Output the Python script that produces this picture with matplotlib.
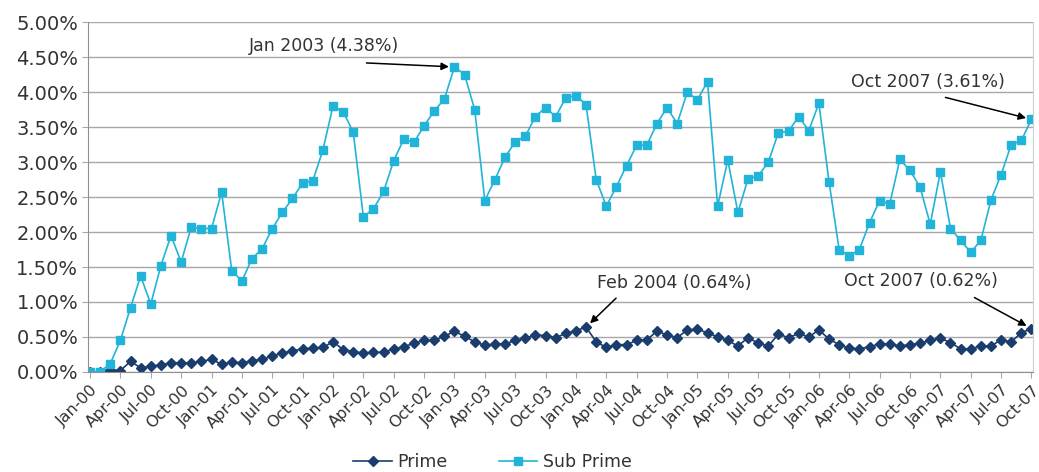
#!/usr/bin/env python

import numpy as np
import matplotlib
matplotlib.use("Agg")
import matplotlib.pyplot as plt
from matplotlib.ticker import FuncFormatter

# monthly rates in %, Jan-00 .. Oct-07
prime = [
    0.00, 0.00, 0.03, 0.02, 0.15, 0.06, 0.08, 0.10, 0.13, 0.13, 0.13, 0.15,
    0.18, 0.11, 0.14, 0.13, 0.16, 0.18, 0.23, 0.27, 0.30, 0.33, 0.34, 0.35,
    0.43, 0.32, 0.29, 0.27, 0.28, 0.28, 0.33, 0.36, 0.41, 0.45, 0.45, 0.51,
    0.58, 0.51, 0.43, 0.38, 0.40, 0.40, 0.45, 0.48, 0.53, 0.52, 0.49, 0.55,
    0.59, 0.64, 0.43, 0.35, 0.39, 0.39, 0.45, 0.46, 0.58, 0.53, 0.49, 0.60,
    0.61, 0.56, 0.50, 0.45, 0.37, 0.49, 0.41, 0.37, 0.54, 0.49, 0.55, 0.50,
    0.60, 0.47, 0.39, 0.34, 0.33, 0.36, 0.40, 0.40, 0.37, 0.39, 0.41, 0.45,
    0.48, 0.42, 0.33, 0.33, 0.37, 0.37, 0.46, 0.43, 0.56, 0.62]
sub_prime = [
    0.00, 0.00, 0.12, 0.45, 0.92, 1.37, 0.97, 1.52, 1.95, 1.57, 2.07, 2.05,
    2.05, 2.57, 1.45, 1.30, 1.62, 1.76, 2.05, 2.28, 2.48, 2.70, 2.73, 3.17,
    3.80, 3.72, 3.43, 2.22, 2.33, 2.58, 3.02, 3.33, 3.28, 3.52, 3.73, 3.90,
    4.36, 4.25, 3.75, 2.45, 2.75, 3.07, 3.29, 3.37, 3.65, 3.78, 3.65, 3.92,
    3.95, 3.82, 2.75, 2.37, 2.65, 2.95, 3.24, 3.24, 3.55, 3.78, 3.55, 4.00,
    3.89, 4.15, 2.37, 3.03, 2.28, 2.76, 2.80, 3.00, 3.42, 3.44, 3.65, 3.45,
    3.84, 2.72, 1.75, 1.66, 1.75, 2.13, 2.45, 2.40, 3.04, 2.88, 2.64, 2.11,
    2.86, 2.05, 1.88, 1.71, 1.88, 2.46, 2.82, 3.25, 3.31, 3.61]
tick_labels = [
    "Jan-00", "Apr-00", "Jul-00", "Oct-00", "Jan-01", "Apr-01", "Jul-01", "Oct-01",
    "Jan-02", "Apr-02", "Jul-02", "Oct-02", "Jan-03", "Apr-03", "Jul-03", "Oct-03",
    "Jan-04", "Apr-04", "Jul-04", "Oct-04", "Jan-05", "Apr-05", "Jul-05", "Oct-05",
    "Jan-06", "Apr-06", "Jul-06", "Oct-06", "Jan-07", "Apr-07", "Jul-07", "Oct-07"]
# (label, series, month index)
notes = [
    ("Jan 2003 (4.38%)", "sub", 36),
    ("Oct 2007 (3.61%)", "sub", 93),
    ("Feb 2004 (0.64%)", "prime", 49),
    ("Oct 2007 (0.62%)", "prime", 93),
]

def main():
    x = np.arange(len(prime))
    c_prime = "#1a3d6e"
    c_sub = "#22b4d8"
    grid_c = "#a8a8a8"
    txt_c = "#333333"

    fig = plt.figure(figsize=(10.39, 4.72), dpi=100)
    ax = fig.add_axes([0.0847, 0.212, 0.910, 0.741])

    ax.plot(x, prime, color=c_prime, marker="D", markersize=5, lw=1.2, label="Prime")
    ax.plot(x, sub_prime, color=c_sub, marker="s", markersize=5.5, lw=1.2, label="Sub Prime")

    ax.set_xlim(-0.2, len(prime) - 0.8)
    ax.set_ylim(0, 5)
    ax.set_yticks(np.arange(0, 5.01, 0.5))
    ax.yaxis.set_major_formatter(FuncFormatter(lambda v, p: "%.2f%%" % v))
    ax.set_xticks(x[::3])
    ax.set_xticklabels(tick_labels, rotation=45, ha="right", rotation_mode="anchor",
                       fontsize=11.5, color=txt_c)
    ax.tick_params(axis="y", labelsize=14, labelcolor=txt_c, color=grid_c, length=4, pad=3)
    ax.tick_params(axis="x", color=grid_c, length=4)
    ax.yaxis.grid(True, color=grid_c, lw=1.0)
    ax.set_axisbelow(True)
    for s in ["left", "bottom"]:
        ax.spines[s].set_color("#909090")
    ax.spines["right"].set_color("#d0d0d0")
    ax.spines["top"].set_visible(False)

    # annotation offsets in pixels: (text dx, dy), (arrow tail dx, dy)
    offs = {
        0: ((-130, 21), (-88, 4)),
        1: ((-104, 37), (-86, 22)),
        2: ((88, 44), (30, 29)),
        3: ((-111, 48), (-57, 31)),
    }
    for i, (label, ser, idx) in enumerate(notes):
        yv = sub_prime[idx] if ser == "sub" else prime[idx]
        (tdx, tdy), (adx, ady) = offs[i]
        ax.annotate(label, xy=(idx, yv), xytext=(tdx, tdy), textcoords="offset pixels",
                    ha="center", va="center", fontsize=12.5, color=txt_c)
        ax.annotate("", xy=(idx, yv), xytext=(adx, ady), textcoords="offset pixels",
                    arrowprops=dict(arrowstyle="-|>", color="black", lw=1.1,
                                    shrinkA=0, shrinkB=4, mutation_scale=11))

    fig.legend(loc="center", bbox_to_anchor=(0.474, 0.022), ncol=2, frameon=False,
               fontsize=12.5, handlelength=2.2, columnspacing=3.0, handletextpad=0.3,
               labelcolor=txt_c)

    fig.savefig("out.png", dpi=100)
    plt.close()

if __name__ == "__main__":
    main()
